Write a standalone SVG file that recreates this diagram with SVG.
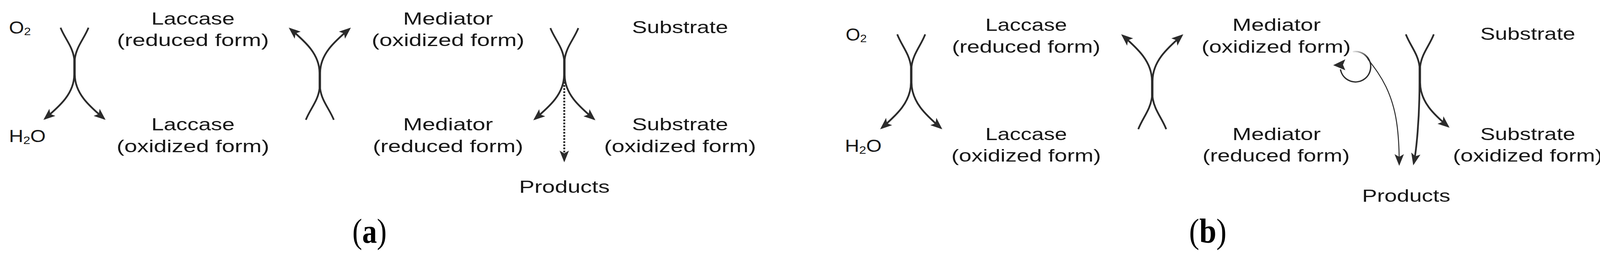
<svg xmlns="http://www.w3.org/2000/svg" width="4122" height="656" viewBox="0 0 4122 656">
<defs>
<style>
.t{font-family:"Liberation Sans",Arial,Helvetica,sans-serif;font-size:44px;fill:#161616;text-anchor:middle}
.ts{font-family:"Liberation Sans",Arial,Helvetica,sans-serif;font-size:44px;fill:#161616;text-anchor:start}
.lab{font-family:"Liberation Serif","Times New Roman",serif;font-size:88px;fill:#000;text-anchor:middle}
.arc{fill:none;stroke:#2b2b2b;stroke-width:4.5;marker-end:url(#ah)}
.dot{fill:none;stroke:#2b2b2b;stroke-width:5;stroke-dasharray:4.5 3.5;marker-end:url(#ah)}
.thin{fill:none;stroke:url(#fade);stroke-width:2.5;marker-end:url(#ah)}
.loop{fill:none;stroke:#2b2b2b;stroke-width:3.5}
.loopf{fill:none;stroke:url(#fade);stroke-width:3.5}
</style>
<marker id="ah" viewBox="0 0 30 26" refX="25" refY="13" markerWidth="30" markerHeight="26" markerUnits="userSpaceOnUse" orient="auto">
<path d="M0,1 L30,13 L0,25 L7,13 Z" fill="#2b2b2b"/>
</marker>
<linearGradient id="fade" gradientUnits="userSpaceOnUse" x1="3462" y1="130" x2="3502" y2="150">
<stop offset="0" stop-color="#f2f2f2"/>
<stop offset="1" stop-color="#2b2b2b"/>
</linearGradient>
</defs>
<rect width="4122" height="656" fill="#ffffff"/>

<!-- Panel (a) nodes -->
<g id="a-o2"><text class="ts" x="23" y="86" textLength="56" lengthAdjust="spacingAndGlyphs">O<tspan font-size="28" dy="4">2</tspan></text></g>
<g id="a-h2o"><text class="ts" x="23" y="364" textLength="94" lengthAdjust="spacingAndGlyphs">H<tspan font-size="28" dy="5">2</tspan><tspan dy="-5">O</tspan></text></g>
<g id="a-laccase-red">
<text class="t" x="494" y="63" textLength="213" lengthAdjust="spacingAndGlyphs">Laccase</text>
<text class="t" x="494" y="118" textLength="389" lengthAdjust="spacingAndGlyphs">(reduced form)</text>
</g>
<g id="a-laccase-ox">
<text class="t" x="494" y="334" textLength="213" lengthAdjust="spacingAndGlyphs">Laccase</text>
<text class="t" x="494" y="390" textLength="391" lengthAdjust="spacingAndGlyphs">(oxidized form)</text>
</g>
<g id="a-mediator-ox">
<text class="t" x="1147" y="63" textLength="230" lengthAdjust="spacingAndGlyphs">Mediator</text>
<text class="t" x="1147" y="118" textLength="391" lengthAdjust="spacingAndGlyphs">(oxidized form)</text>
</g>
<g id="a-mediator-red">
<text class="t" x="1147" y="334" textLength="230" lengthAdjust="spacingAndGlyphs">Mediator</text>
<text class="t" x="1147" y="390" textLength="385" lengthAdjust="spacingAndGlyphs">(reduced form)</text>
</g>
<g id="a-substrate"><text class="t" x="1741" y="85" textLength="246" lengthAdjust="spacingAndGlyphs">Substrate</text></g>
<g id="a-substrate-ox">
<text class="t" x="1741" y="334" textLength="246" lengthAdjust="spacingAndGlyphs">Substrate</text>
<text class="t" x="1741" y="390" textLength="389" lengthAdjust="spacingAndGlyphs">(oxidized form)</text>
</g>
<g id="a-products"><text class="t" x="1445" y="494" textLength="232" lengthAdjust="spacingAndGlyphs">Products</text></g>
<g id="label-a"><text class="lab" x="946" y="622" textLength="88" lengthAdjust="spacingAndGlyphs">(<tspan font-weight="bold">a</tspan>)</text></g>

<!-- Panel (b) nodes -->
<g id="b-o2"><text class="ts" x="2165" y="104" textLength="54" lengthAdjust="spacingAndGlyphs">O<tspan font-size="28" dy="4">2</tspan></text></g>
<g id="b-h2o"><text class="ts" x="2163" y="389" textLength="94" lengthAdjust="spacingAndGlyphs">H<tspan font-size="28" dy="5">2</tspan><tspan dy="-5">O</tspan></text></g>
<g id="b-laccase-red">
<text class="t" x="2627" y="79" textLength="209" lengthAdjust="spacingAndGlyphs">Laccase</text>
<text class="t" x="2627" y="135" textLength="380" lengthAdjust="spacingAndGlyphs">(reduced form)</text>
</g>
<g id="b-laccase-ox">
<text class="t" x="2627" y="359" textLength="209" lengthAdjust="spacingAndGlyphs">Laccase</text>
<text class="t" x="2627" y="414" textLength="383" lengthAdjust="spacingAndGlyphs">(oxidized form)</text>
</g>
<g id="b-mediator-ox">
<text class="t" x="3268" y="79" textLength="226" lengthAdjust="spacingAndGlyphs">Mediator</text>
<text class="t" x="3267" y="135" textLength="382" lengthAdjust="spacingAndGlyphs">(oxidized form)</text>
</g>
<g id="b-mediator-red">
<text class="t" x="3268" y="359" textLength="226" lengthAdjust="spacingAndGlyphs">Mediator</text>
<text class="t" x="3267" y="414" textLength="377" lengthAdjust="spacingAndGlyphs">(reduced form)</text>
</g>
<g id="b-substrate"><text class="t" x="3911" y="102" textLength="243" lengthAdjust="spacingAndGlyphs">Substrate</text></g>
<g id="b-substrate-ox">
<text class="t" x="3911" y="359" textLength="243" lengthAdjust="spacingAndGlyphs">Substrate</text>
<text class="t" x="3911" y="414" textLength="383" lengthAdjust="spacingAndGlyphs">(oxidized form)</text>
</g>
<g id="b-products"><text class="t" x="3600" y="517" textLength="226" lengthAdjust="spacingAndGlyphs">Products</text></g>
<g id="label-b"><text class="lab" x="3092" y="622" textLength="96" lengthAdjust="spacingAndGlyphs">(<tspan font-weight="bold">b</tspan>)</text></g>

<!-- Connectors -->
<g id="connectors">
<g id="x-a1" transform="translate(190,71)">
<path class="arc" d="M-35,0 C-24,28 -4,48 0,80 L0,120 C0,168 -36,200 -75,233"/>
<path class="arc" d="M36.5,0 C25.5,28 5.5,48 1.5,80 L1.5,120 C1.5,168 37.5,200 76.5,233"/>
</g>
<g id="x-a2" transform="translate(818,307) scale(1,-1)">
<path class="arc" d="M-35,0 C-24,28 -4,48 0,80 L0,120 C0,168 -36,200 -75,233"/>
<path class="arc" d="M36.5,0 C25.5,28 5.5,48 1.5,80 L1.5,120 C1.5,168 37.5,200 76.5,233"/>
</g>
<g id="x-a3" transform="translate(1444,72)">
<path class="arc" d="M-35,0 C-24,28 -4,48 0,80 L0,120 C0,168 -36,200 -75,233"/>
<path class="arc" d="M36.5,0 C25.5,28 5.5,48 1.5,80 L1.5,120 C1.5,168 37.5,200 76.5,233"/>
</g>
<path id="dot-a" class="dot" d="M1444.5,210 L1444.5,411"/>

<g id="x-b1" transform="translate(2332,88) scale(1,1.03)">
<path class="arc" d="M-35,0 C-24,28 -4,48 0,80 L0,120 C0,168 -36,200 -75,233"/>
<path class="arc" d="M36.5,0 C25.5,28 5.5,48 1.5,80 L1.5,120 C1.5,168 37.5,200 76.5,233"/>
</g>
<g id="x-b2" transform="translate(2949,331) scale(1,-1.03)">
<path class="arc" d="M-35,0 C-24,28 -4,48 0,80 L0,120 C0,168 -36,200 -75,233"/>
<path class="arc" d="M36.5,0 C25.5,28 5.5,48 1.5,80 L1.5,120 C1.5,168 37.5,200 76.5,233"/>
</g>
<g id="x-b3" transform="translate(3634,88) scale(1,1.03)">
<path class="arc" d="M-35,0 C-24,28 -4,48 0,80 L0,120 C0,210 -8,290 -15,321"/>
<path class="arc" d="M36.5,0 C25.5,28 5.5,48 1.5,80 L1.5,120 C1.5,168 37.5,200 73,229"/>
</g>
<g id="loop-b">
<path class="loopf" d="M3463.2,132.6 A39,39 0 0 1 3499.9,145.9"/>
<path class="loop" d="M3499.9,145.9 A39,39 0 1 1 3431.6,177.8"/>
<polygon points="3413,167 3444,152 3438,166 3444,180" fill="#2b2b2b"/>
</g>
<path id="thin-b" class="thin" d="M3463,132 A39,39 0 0 1 3503,153 C3520,175 3535,195 3548,222 C3570,268 3582,320 3582,420"/>
</g>
</svg>
